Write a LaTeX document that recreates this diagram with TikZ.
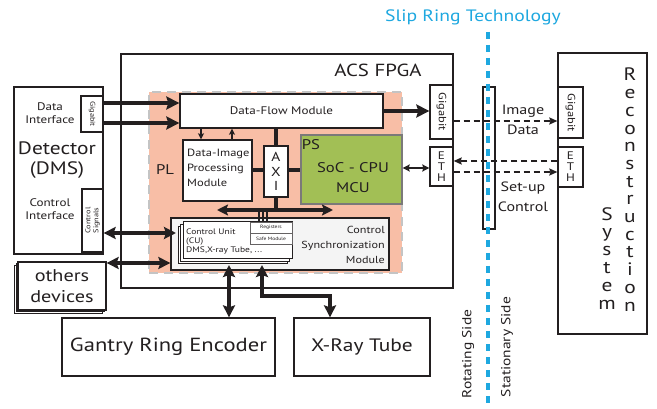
\documentclass[tikz,border=0pt]{standalone}
\usepackage{fontspec}
\setmainfont{PT Sans}[FakeStretch=1.19]
\usetikzlibrary{arrows.meta,calc}
\definecolor{ink}{HTML}{231F20}
\definecolor{salmon}{HTML}{F8BEA6}
\definecolor{psgreen}{HTML}{A2BF55}
\definecolor{ringblue}{HTML}{1EA8E0}
\definecolor{plgray}{HTML}{C4C4C4}
\definecolor{csmfill}{HTML}{F4F4F4}
\newcommand{\fsz}[2]{\fontsize{#1}{#2}\selectfont}
\begin{document}
\begin{tikzpicture}[x=1pt,y=-1pt,
  every node/.style={text=ink,inner sep=0pt},
  box/.style={draw=ink,line width=1.3pt,fill=white,inner sep=0pt},
  shadowbox/.style={draw=ink,line width=0.8pt,fill=white,inner sep=0pt},
  bigarrow/.style={draw=ink,line width=4pt,-{Stealth[length=13pt,width=13pt,inset=2pt]}},
  bigdouble/.style={draw=ink,line width=3.5pt,{Stealth[length=12pt,width=12pt,inset=2pt]}-{Stealth[length=12pt,width=12pt,inset=2pt]}},
  smallarrow/.style={draw=ink,line width=2.5pt,-{Stealth[length=6pt,width=6pt,inset=1pt]}},
  thindouble/.style={draw=ink,line width=1.5pt,{Stealth[length=7pt,width=7pt,inset=1pt]}-{Stealth[length=7pt,width=7pt,inset=1pt]}},
  dasharrow/.style={draw=ink,line width=1.4pt,dash pattern=on 6pt off 4pt,-{Stealth[length=8pt,width=7pt,inset=1pt]}},
  bar/.style={draw=ink,line width=4pt},
]
\useasboundingbox (0,0) rectangle (657,409);
\fill[white] (0,0) rectangle (657,409);

% level coordinates
\coordinate (y103) at (0,103);
\coordinate (y123) at (0,123);
\coordinate (y121) at (0,121);
\coordinate (y161) at (0,161);
\coordinate (y172) at (0,172);
\coordinate (y168) at (0,168);
\coordinate (y170) at (0,170);
\coordinate (y210) at (0,210);
\coordinate (y233) at (0,233);
\coordinate (y263) at (0,263);
\coordinate (y265) at (0,265);
\coordinate (y296) at (0,296);
\coordinate (x176) at (176,0);
\coordinate (x201) at (201,0);
\coordinate (x232) at (232,0);
\coordinate (x229) at (229,0);
\coordinate (x262) at (262,0);
\coordinate (x330) at (330,0);

% Slip ring title and line
\node[text=ringblue,font=\fsz{16.5}{18}] (title) at (473,17) {Slip Ring Technology};
\coordinate (ringtop) at (488,32);
\coordinate (ringbot) at (488,409);

% FPGA
\node[box,minimum width=332,minimum height=234] (fpga) at (287,171) {};
\node[font=\fsz{17.5}{20}] (fpgalbl) at (378,70) {ACS FPGA};
\node[draw=plgray,fill=salmon,line width=1.3pt,dash pattern=on 9pt off 6pt,minimum width=253,minimum height=181] (pl) at (275.5,182.5) {};
\node[font=\fsz{14}{16}] (pllbl) at (165,170) {PL};

% Data-flow
\node[box,minimum width=203,minimum height=34,font=\fsz{11}{12}] (dfm) at (281.5,111) {Data-Flow Module};
\node[box,minimum width=69,minimum height=61] (dip) at (217.5,170.5) {};
\node[anchor=west,align=left,font=\fsz{10.5}{15}] (diptxt) at (187,167.5) {Data-Image\\Processing\\Module};
\node[box,minimum width=24,minimum height=51,align=center,font=\fsz{13}{14.5}] (axi) at (276,171.5) {A\\X\\I};
\node[draw=ink!60,line width=1.3pt,fill=psgreen,minimum width=101,minimum height=69] (ps) at (351.5,169.5) {};
\node[font=\fsz{14}{16}] (pslbl) at (311,145) {PS};
\node[align=center,font=\fsz{14}{20}] (pstxt) at (353,178) {SoC - CPU\\MCU};

% Control synchronization module
\node[draw=ink,line width=1.3pt,fill=csmfill,minimum width=218,minimum height=52] (csm) at (280,244) {};
\node[anchor=east,align=right,font=\fsz{10.2}{15}] (csmtxt) at (385,245) {Control\\Synchronization\\Module};
\node[box,line width=1pt,minimum width=109,minimum height=37] (cu3) at (232.5,245.5) {};
\node[box,line width=1pt,minimum width=109,minimum height=37] (cu2) at (235,243) {};
\node[box,line width=1pt,minimum width=109,minimum height=37] (cu) at (237.5,240.5) {};
\node[anchor=west,align=left,font=\fsz{8}{9.3}] (cutxt) at (186,241.5) {Control Unit\\(CU)\\DMS,X-ray Tube, ...};
\node[draw=ink!70,line width=0.7pt,fill=white,minimum width=42,minimum height=11,font=\fsz{4.7}{6}] (reg) at (271,227.5) {Registers};
\node[draw=ink!70,line width=0.7pt,fill=white,minimum width=42,minimum height=11,font=\fsz{4.7}{6}] (safe) at (271,238.5) {Safe Module};

% FPGA side interfaces
\node[box,minimum width=23,minimum height=54] (gig1) at (441.5,112) {};
\node[rotate=-90,font=\fsz{10.5}{12}] (gig1txt) at (gig1.center) {Gigabit};
\node[box,minimum width=23,minimum height=39,align=center,font=\fsz{11}{11}] (eth1) at (441.5,166.5) {E\\T\\H};

% Slip ring box
\node[draw=ink,line width=1.3pt,minimum width=12,minimum height=142] (slip) at (489,158) {};
\draw[ringblue,line width=3.5pt,dash pattern=on 7pt off 6pt] (ringtop) -- (ringbot);

% Reconstruction system
\node[box,minimum width=89,minimum height=281] (recon) at (602.5,193.5) {};
\node[box,minimum width=25,minimum height=51] (gig2) at (570.5,112.5) {};
\node[rotate=-90,font=\fsz{10.5}{12}] (gig2txt) at (gig2.center) {Gigabit};
\node[box,minimum width=25,minimum height=40,align=center,font=\fsz{11}{11}] (eth2) at (570.5,167) {E\\T\\H};
\node[anchor=north,align=center,font=\fsz{18}{17.7}] (recontxt) at (630,68) {R\\e\\c\\o\\n\\s\\t\\r\\u\\c\\t\\i\\o\\n};
\node[anchor=north,align=center,font=\fsz{18}{17.9}] (systxt) at (607,207) {S\\y\\s\\t\\e\\m};

\node[align=center,font=\fsz{13.5}{20}] (imgtxt) at (523,120) {Image\\Data};
\node[align=center,font=\fsz{13.5}{20}] (setuptxt) at (523,197) {Set-up\\Control};

\node[rotate=90,font=\fsz{13}{15}] (rotside) at (468,354) {Rotating Side};
\node[rotate=90,font=\fsz{13}{15}] (statside) at (507,347) {Stationary Side};

% Detector
\node[box,minimum width=89,minimum height=167] (det) at (58.5,170.5) {};
\node[box,minimum width=22,minimum height=36] (detgig) at (92,114) {};
\node[rotate=-90,font=\fsz{7}{8}] (detgigtxt) at (detgig.center) {Gigabit};
\node[box,minimum width=21,minimum height=63] (detctl) at (92.5,220.5) {};
\node[rotate=90,align=center,font=\fsz{7}{8}] (detctltxt) at (detctl.center) {Control\\Signals};
\node[align=center,font=\fsz{11}{12.5}] (ditxt) at (50,113) {Data\\Interface};
\node[align=center,font=\fsz{18}{20}] (dettxt) at (57,160) {Detector\\(DMS)};
\node[align=center,font=\fsz{11}{12.5}] (citxt) at (50,209) {Control\\Interface};

% Others devices
\node[shadowbox,minimum width=88,minimum height=48] (oth3) at (58,289.5) {};
\node[shadowbox,minimum width=88,minimum height=48] (oth2) at (60,287.7) {};
\node[box,minimum width=88,minimum height=48,align=center,font=\fsz{17}{21}] (others) at (62,286) {others\\devices};

% Bottom boxes
\node[box,minimum width=213,minimum height=58,font=\fsz{19}{22}] (gantry) at (168.5,347) {Gantry Ring Encoder};
\node[box,minimum width=136,minimum height=58,font=\fsz{18}{22}] (xray) at (362,347) {X-Ray Tube};

% Connectors
\draw[bigarrow] (detgig.east |- y103) -- (dfm.west |- y103);
\draw[bigarrow] (detgig.east |- y123) -- (dfm.west |- y123);
\draw[bigarrow] (dfm.east) -- (dfm.east -| gig1.west);
\draw[smallarrow] (dfm.south -| x201) -- (dip.north -| x201);
\draw[smallarrow] (dip.north -| x232) -- (dfm.south -| x232);
\draw[bar] (dfm.south -| axi.north) -- (axi.north);
\draw[bar] (dip.east |- y170) -- (axi.west |- y170);
\draw[bar] (axi.east |- y170) -- (ps.west |- y170);
\coordinate (busc) at (axi.south |- y210);
\coordinate (busl) at (217,210);
\coordinate (busr) at (333,210);
\draw[bar] (axi.south) -- (busc);
\draw[draw=ink,line width=4pt,{Stealth[length=11pt,width=11pt,inset=2pt]}-{Stealth[length=11pt,width=11pt,inset=2pt]}] (busl) -- (busr);
\foreach \xx in {259,263,267} \draw[ink,line width=1.3pt] (\xx,210) -- (\xx,222);
\draw[thindouble] (ps.east |- y168) -- (eth1.west |- y168);
\draw[bigdouble] (detctl.east |- y233) -- (x176 |- y233);
\draw[bigdouble] (others.east |- y263) -- (csm.west |- y263);
\draw[bigdouble] (x229 |- y265) -- (gantry.north -| x229);
\draw[draw=ink,line width=3.5pt,{Stealth[length=12pt,width=12pt,inset=2pt]}-{Stealth[length=12pt,width=12pt,inset=2pt]}] (x262 |- y265) -- (x262 |- y296) -- (x330 |- y296) -- (xray.north -| x330);
\draw[dasharrow] (gig1.east |- y121) -- (gig2.west |- y121);
\draw[dasharrow] (eth2.west |- y161) -- (eth1.east |- y161);
\draw[dasharrow] (eth1.east |- y172) -- (eth2.west |- y172);
\end{tikzpicture}
\end{document}
